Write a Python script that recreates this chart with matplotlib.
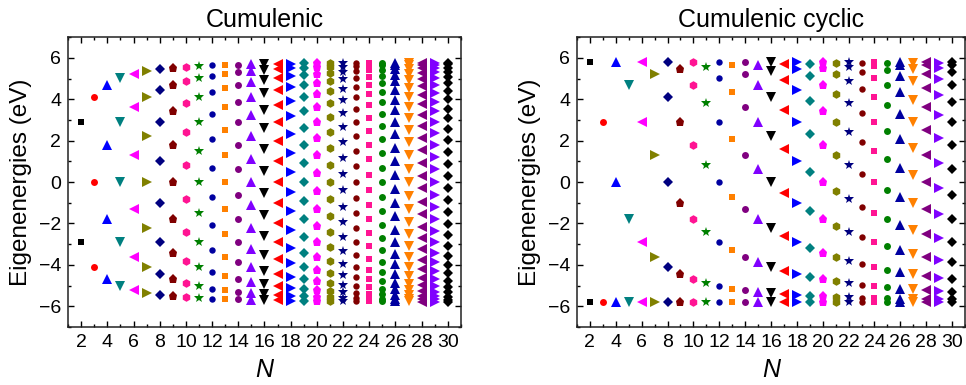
import matplotlib
matplotlib.use("Agg")
from matplotlib import pyplot as plt
from matplotlib.ticker import MultipleLocator

plt.rcParams['font.family'] = ['Liberation Sans', 'DejaVu Sans']

# Chain length
N_values = [2, 3, 4, 5, 6, 7, 8, 9, 10, 11, 12, 13, 14, 15, 16,
            17, 18, 19, 20, 21, 22, 23, 24, 25, 26, 27, 28, 29, 30]

# Eigenenergies (eV) of the linear chain, one list per N
chain_levels = [
    [2.90, -2.90],
    [4.10, 0.00, -4.10],
    [4.69, 1.79, -1.79, -4.69],
    [5.02, 2.90, 0.00, -2.90, -5.02],
    [5.23, 3.62, 1.29, -1.29, -3.62, -5.23],
    [5.36, 4.10, 2.22, 0.00, -2.22, -4.10, -5.36],
    [5.45, 4.44, 2.90, 1.01, -1.01, -2.90, -4.44, -5.45],
    [5.52, 4.69, 3.41, 1.79, 0.00, -1.79, -3.41, -4.69, -5.52],
    [5.57, 4.88, 3.80, 2.41, 0.83, -0.83, -2.41, -3.80, -4.88, -5.57],
    [5.60, 5.02, 4.10, 2.90, 1.50, 0.00, -1.50, -2.90, -4.10, -5.02, -5.60],
    [5.63, 5.14, 4.34, 3.29, 2.06, 0.70, -0.70, -2.06, -3.29, -4.34, -5.14, -5.63],
    [5.65, 5.23, 4.53, 3.62, 2.52, 1.29, 0.00, -1.29, -2.52, -3.62, -4.53, -5.23, -5.65],
    [5.67, 5.30, 4.69, 3.88, 2.90, 1.79, 0.61, -0.61, -1.79, -2.90, -3.88, -4.69, -5.30, -5.67],
    [5.69, 5.36, 4.82, 4.10, 3.22, 2.22, 1.13, 0.00, -1.13, -2.22, -3.22, -4.10, -4.82, -5.36,
     -5.69],
    [5.70, 5.41, 4.93, 4.29, 3.50, 2.59, 1.59, 0.54, -0.54, -1.59, -2.59, -3.50, -4.29, -4.93,
     -5.41, -5.70],
    [5.71, 5.45, 5.02, 4.44, 3.73, 2.90, 1.98, 1.01, 0.00, -1.01, -1.98, -2.90, -3.73, -4.44,
     -5.02, -5.45, -5.71],
    [5.72, 5.49, 5.10, 4.58, 3.93, 3.17, 2.33, 1.42, 0.48, -0.48, -1.42, -2.33, -3.17, -3.93,
     -4.58, -5.10, -5.49, -5.72],
    [5.73, 5.52, 5.17, 4.69, 4.10, 3.41, 2.63, 1.79, 0.91, 0.00, -0.91, -1.79, -2.63, -3.41,
     -4.10, -4.69, -5.17, -5.52, -5.73],
    [5.74, 5.54, 5.23, 4.79, 4.25, 3.62, 2.90, 2.12, 1.29, 0.43, -0.43, -1.29, -2.12, -2.90,
     -3.62, -4.25, -4.79, -5.23, -5.54, -5.74],
    [5.74, 5.57, 5.28, 4.88, 4.38, 3.80, 3.14, 2.41, 1.63, 0.83, 0.00, -0.83, -1.63, -2.41,
     -3.14, -3.80, -4.38, -4.88, -5.28, -5.57, -5.74],
    [5.75, 5.58, 5.32, 4.96, 4.50, 3.96, 3.34, 2.67, 1.94, 1.18, 0.40, -0.40, -1.18, -1.94,
     -2.67, -3.34, -3.96, -4.50, -4.96, -5.32, -5.58, -5.75],
    [5.75, 5.60, 5.36, 5.02, 4.60, 4.10, 3.53, 2.90, 2.22, 1.50, 0.76, 0.00, -0.76, -1.50,
     -2.22, -2.90, -3.53, -4.10, -4.60, -5.02, -5.36, -5.60, -5.75],
    [5.75, 5.62, 5.39, 5.08, 4.69, 4.23, 3.70, 3.11, 2.47, 1.79, 1.09, 0.36, -0.36, -1.09,
     -1.79, -2.47, -3.11, -3.70, -4.23, -4.69, -5.08, -5.39, -5.62, -5.75],
    [5.76, 5.63, 5.42, 5.14, 4.77, 4.34, 3.85, 3.29, 2.70, 2.06, 1.39, 0.70, 0.00, -0.70,
     -1.39, -2.06, -2.70, -3.29, -3.85, -4.34, -4.77, -5.14, -5.42, -5.63, -5.76],
    [5.76, 5.64, 5.45, 5.18, 4.86, 4.44, 3.98, 3.46, 2.90, 2.30, 1.66, 1.01, 0.34, -0.34,
     -1.01, -1.66, -2.30, -2.90, -3.46, -3.98, -4.44, -4.86, -5.18, -5.45, -5.64, -5.76],
    [5.76, 5.65, 5.47, 5.23, 4.91, 4.53, 4.10, 3.62, 3.09, 2.52, 1.92, 1.29, 0.65, 0.00,
     -0.65, -1.29, -1.92, -2.52, -3.09, -3.62, -4.10, -4.53, -4.91, -5.23, -5.47, -5.65,
     -5.76],
    [5.77, 5.66, 5.50, 5.26, 4.97, 4.62, 4.21, 3.75, 3.25, 2.72, 2.15, 1.55, 0.94, 0.31,
     -0.31, -0.94, -1.55, -2.15, -2.72, -3.25, -3.75, -4.21, -4.62, -4.97, -5.26, -5.50,
     -5.66, -5.77],
    [5.77, 5.67, 5.52, 5.30, 5.02, 4.69, 4.31, 3.88, 3.41, 2.90, 2.36, 1.79, 1.21, 0.61,
     0.00, -0.61, -1.21, -1.79, -2.36, -2.90, -3.41, -3.88, -4.31, -4.69, -5.02, -5.30,
     -5.52, -5.67, -5.77],
    [5.77, 5.68, 5.53, 5.33, 5.07, 4.76, 4.40, 3.99, 3.55, 3.07, 2.55, 2.01, 1.45, 0.88,
     0.29, -0.29, -0.88, -1.45, -2.01, -2.55, -3.07, -3.55, -3.99, -4.40, -4.76, -5.07,
     -5.33, -5.53, -5.68, -5.77],
]

# Eigenenergies (eV) of the ring, distinct levels only, one list per N
ring_levels = [
    [-5.80, 5.80],
    [-5.80, 2.90],
    [-5.80, 0.00, 5.80],
    [-5.80, -1.79, 4.69],
    [-5.80, -2.90, 2.90, 5.80],
    [-5.80, -3.62, 1.29, 5.23],
    [-5.80, -4.10, 0.00, 4.10, 5.80],
    [-5.80, -4.44, -1.01, 2.90, 5.45],
    [-5.80, -4.69, -1.79, 1.79, 4.69, 5.80],
    [-5.80, -4.88, -2.41, 0.83, 3.80, 5.57],
    [-5.80, -5.02, -2.90, 0.00, 2.90, 5.02, 5.80],
    [-5.80, -5.14, -3.29, -0.70, 2.06, 4.34, 5.63],
    [-5.80, -5.23, -3.62, -1.29, 1.29, 3.62, 5.23, 5.80],
    [-5.80, -5.30, -3.88, -1.79, 0.61, 2.90, 4.69, 5.67],
    [-5.80, -5.36, -4.10, -2.22, 0.00, 2.22, 4.10, 5.36, 5.80],
    [-5.80, -5.41, -4.29, -2.59, -0.54, 1.59, 3.50, 4.93, 5.70],
    [-5.80, -5.45, -4.44, -2.90, -1.01, 1.01, 2.90, 4.44, 5.45, 5.80],
    [-5.80, -5.49, -4.58, -3.17, -1.42, 0.48, 2.33, 3.93, 5.10, 5.72],
    [-5.80, -5.52, -4.69, -3.41, -1.79, 0.00, 1.79, 3.41, 4.69, 5.52, 5.80],
    [-5.80, -5.54, -4.79, -3.62, -2.12, -0.43, 1.29, 2.90, 4.25, 5.23, 5.74],
    [-5.80, -5.57, -4.88, -3.80, -2.41, -0.83, 0.83, 2.41, 3.80, 4.88, 5.57, 5.80],
    [-5.80, -5.58, -4.96, -3.96, -2.67, -1.18, 0.40, 1.94, 3.34, 4.50, 5.32, 5.75],
    [-5.80, -5.60, -5.02, -4.10, -2.90, -1.50, 0.00, 1.50, 2.90, 4.10, 5.02, 5.60, 5.80],
    [-5.80, -5.62, -5.08, -4.23, -3.11, -1.79, -0.36, 1.09, 2.47, 3.70, 4.69, 5.39, 5.75],
    [-5.80, -5.63, -5.14, -4.34, -3.29, -2.06, -0.70, 0.70, 2.06, 3.29, 4.34, 5.14, 5.63,
     5.80],
    [-5.80, -5.64, -5.18, -4.44, -3.46, -2.30, -1.01, 0.34, 1.66, 2.90, 3.98, 4.86, 5.45,
     5.76],
    [-5.80, -5.65, -5.23, -4.53, -3.62, -2.52, -1.29, 0.00, 1.29, 2.52, 3.62, 4.53, 5.23,
     5.65, 5.80],
    [-5.80, -5.66, -5.26, -4.62, -3.75, -2.72, -1.55, -0.31, 0.94, 2.15, 3.25, 4.21, 4.97,
     5.50, 5.77],
    [-5.80, -5.67, -5.30, -4.69, -3.88, -2.90, -1.79, -0.61, 0.61, 1.79, 2.90, 3.88, 4.69,
     5.30, 5.67, 5.80],
]

# Origin-like colour and symbol cycles
colors = ['#000000', '#FF0000', '#0000FF', '#008080', '#FF00FF', '#808000', '#000080',
          '#800000', '#FF1493', '#008000', '#0000A0', '#FF8000', '#800080', '#8000FF']
markers = ['s', 'o', '^', 'v', '<', '>', 'D', 'p', 'h', '*', 'o']
msizes = [4.8, 5.0, 6.6, 6.6, 6.6, 6.6, 5.0, 6.6, 6.2, 7.4, 4.6]

fig = plt.figure(figsize=(9.66, 3.85), dpi=100)
ax1 = fig.add_axes([0.0704, 0.1506, 0.4068, 0.753])
ax2 = fig.add_axes([0.5973, 0.1506, 0.4017, 0.753])


def draw_panel(ax, levels, title):
    for i, n in enumerate(N_values):
        ys = levels[i]
        ax.plot([n] * len(ys), ys, linestyle='none',
                marker=markers[i % len(markers)], ms=msizes[i % len(markers)],
                color=colors[i % len(colors)], markeredgewidth=0)
    ax.set_xlim(1, 31)
    ax.set_ylim(-7, 7)
    ax.xaxis.set_major_locator(MultipleLocator(2))
    ax.xaxis.set_minor_locator(MultipleLocator(1))
    ax.yaxis.set_major_locator(MultipleLocator(2))
    ax.yaxis.set_minor_locator(MultipleLocator(1))
    ax.tick_params(which='both', direction='in', top=True, right=True,
                   labelsize=14, width=1.0, pad=5)
    ax.tick_params(which='major', length=4)
    ax.tick_params(which='minor', length=2)
    for sp in ax.spines.values():
        sp.set_linewidth(1.1)
        sp.set_color('#222222')
    ax.set_title(title, fontsize=18, pad=7)
    ax.set_xlabel('N', fontsize=18, fontstyle='italic', labelpad=5)
    ax.set_ylabel('Eigenenergies (eV)', fontsize=17.5, labelpad=5)


draw_panel(ax1, chain_levels, 'Cumulenic')
draw_panel(ax2, ring_levels, 'Cumulenic cyclic')

fig.savefig('out.png', dpi=100)
